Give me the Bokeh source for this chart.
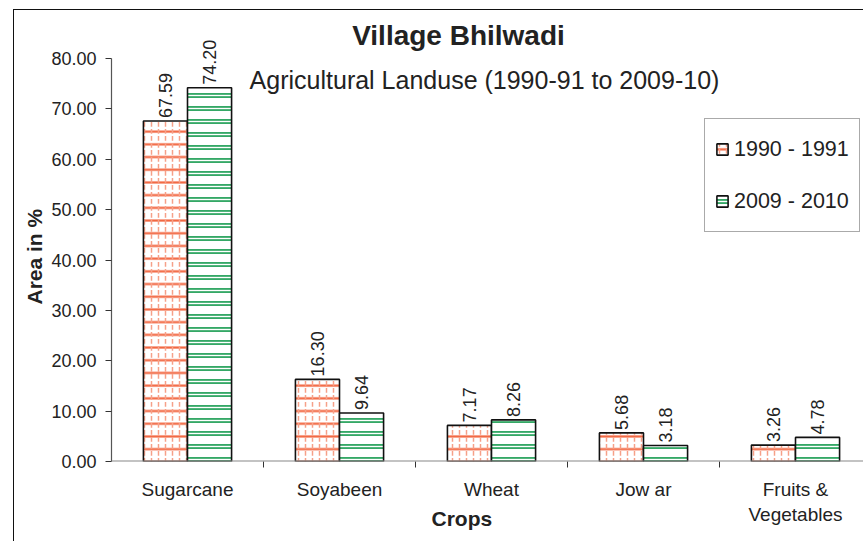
import numpy as np
from bokeh.plotting import figure
from bokeh.models import (ColumnDataSource, Range1d, FixedTicker, NumeralTickFormatter,
                          LabelSet, Label, Legend, LegendItem, Span, Title)
from bokeh.embed import file_html
from bokeh.resources import INLINE
from bokeh.core.properties import value

# ---- data ----
crops = ["Sugarcane", "Soyabeen", "Wheat", "Jow ar", "Fruits &\nVegetables"]
area_1990 = [67.59, 16.30, 7.17, 5.68, 3.26]
area_2009 = [74.20, 9.64, 8.26, 3.18, 4.78]
series_labels = ["1990 - 1991", "2009 - 2010"]
y_ticks = [0, 10, 20, 30, 40, 50, 60, 70, 80]
title_text = "Village Bhilwadi"
subtitle_text = "Agricultural Landuse (1990-91 to 2009-10)"
x_title = "Crops"
y_title = "Area in %"

FONT = "Liberation Sans"
idx = np.arange(len(crops))
bw = 0.29
src1 = ColumnDataSource(dict(x=idx - bw / 2, top=area_1990, lab=[f"{v:.2f}" for v in area_1990]))
src2 = ColumnDataSource(dict(x=idx + bw / 2, top=area_2009, lab=[f"{v:.2f}" for v in area_2009]))

W, H = 850, 532
ML, MT, MB = 97, 0, 81
frame_w = W - ML
frame_h = H - MT - MB
px_per_10 = 403 / 8.0          # pixel height of 10 units
y_end = 10 * frame_h / px_per_10
p = figure(width=W, height=H, output_backend="svg", toolbar_location=None,
           x_range=Range1d(-0.5, -0.5 + frame_w / 152.0), y_range=Range1d(0, y_end),
           min_border_left=ML, min_border_right=0, min_border_top=MT, min_border_bottom=MB)
p.margin = (9, 0, 0, 13)
p.styles = {"border-left": "1px solid #111", "border-top": "1px solid #111"}
p.outline_line_color = None
p.xgrid.visible = False
p.ygrid.visible = False
p.background_fill_color = "white"
p.border_fill_color = "white"

RED = "#f26640"
RED_L = "#f6a088"
GREEN = "#35a866"

r1a = p.vbar(x="x", top="top", bottom=0, width=bw, source=src1, fill_color="white",
             line_color=None, hatch_pattern="horizontal_line", hatch_color=RED,
             hatch_scale=12.7, hatch_weight=2.2)
r1b = p.vbar(x="x", top="top", bottom=0, width=bw, source=src1, fill_color=None,
             hatch_pattern="vertical_dash", hatch_color=RED_L, hatch_scale=7, hatch_weight=1.5,
             line_color="#111", line_width=1.6)
r2a = p.vbar(x="x", top="top", bottom=0, width=bw, source=src2, fill_color="white",
             line_color=None, hatch_pattern="horizontal_line", hatch_color=GREEN,
             hatch_scale=13, hatch_weight=5)
r2b = p.vbar(x="x", top="top", bottom=0, width=bw, source=src2, fill_color=None,
             hatch_pattern="horizontal_line", hatch_color="white", hatch_scale=13, hatch_weight=1.3,
             line_color="#111", line_width=1.6)

for src in (src1, src2):
    p.add_layout(LabelSet(x="x", y="top", text="lab", source=src, angle=np.pi / 2,
                          text_align="left", text_baseline="middle", y_offset=3,
                          text_font_size=value("18px"), text_font=value(FONT),
                          text_color="#222"))

# baseline of the category axis (full width)
p.add_layout(Span(location=0, dimension="width", line_color="#888", line_width=2))

# x axis
xa = p.xaxis[0]
xa.ticker = FixedTicker(ticks=list(idx), minor_ticks=list(idx[:-1] + 0.5))
xa.major_label_overrides = {int(i): c for i, c in zip(idx, crops)}
xa.axis_line_color = None
xa.major_tick_line_color = None
xa.major_tick_out = 0
xa.major_tick_in = 0
xa.minor_tick_out = 6
xa.minor_tick_in = 0
xa.minor_tick_line_color = "#333"
xa.major_label_text_font = FONT
xa.major_label_text_font_size = "19px"
xa.major_label_text_color = "#222"
xa.major_label_standoff = 11

# y axis
ya = p.yaxis[0]
ya.ticker = FixedTicker(ticks=y_ticks)
ya.formatter = NumeralTickFormatter(format="0.00")
ya.bounds = (0, 80)
ya.major_tick_out = 6
ya.major_tick_in = 0
ya.minor_tick_line_color = None
ya.major_tick_line_color = "#333"
ya.axis_line_color = "#555"
ya.axis_line_width = 1.2
ya.major_label_text_font = FONT
ya.major_label_text_font_size = "18px"
ya.major_label_text_color = "#222"
ya.major_label_standoff = 9

# axis titles as side titles (so they can be offset along the side)
p.add_layout(Title(text=y_title, align="left", offset=157, standoff=5,
                   text_font=FONT, text_font_style="bold", text_font_size="21px",
                   text_color="#222"), "left")
p.add_layout(Title(text=x_title, align="left", vertical_align="top", offset=320, standoff=-42,
                   text_font=FONT, text_font_style="bold", text_font_size="21px",
                   text_color="#222"), "below")

# titles (screen units, relative to the plot frame's bottom-left)
p.add_layout(Label(x=347, y=426.5, x_units="screen", y_units="screen", text=title_text,
                   text_align="center", text_baseline="middle", text_font=FONT,
                   text_font_size="28px", text_font_style="bold", text_color="#222"))
p.add_layout(Label(x=373, y=382, x_units="screen", y_units="screen", text=subtitle_text,
                   text_align="center", text_baseline="middle", text_font=FONT,
                   text_font_size="25px", text_color="#222"))

legend = Legend(items=[LegendItem(label=series_labels[0], renderers=[r1a, r1b]),
                       LegendItem(label=series_labels[1], renderers=[r2a, r2b])],
                location=(593, 229), glyph_width=14, glyph_height=14, label_standoff=5,
                label_height=40, spacing=12, padding=10, margin=0,
                label_text_font=FONT, label_text_font_size="21.5px", label_text_color="#222",
                border_line_color="#555", border_line_width=1.5,
                background_fill_color="white", background_fill_alpha=1)
p.add_layout(legend)

open("out.html", "w").write(file_html(p, INLINE))
